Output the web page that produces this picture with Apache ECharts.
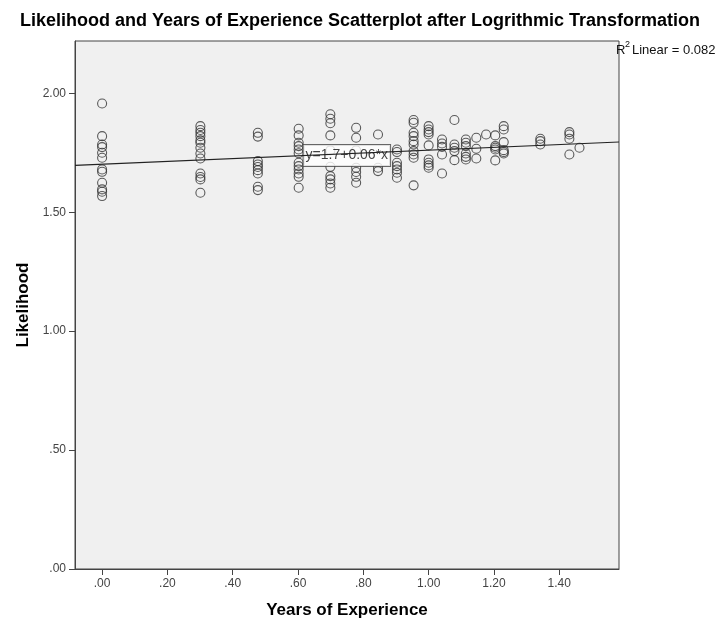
<!DOCTYPE html>
<html>
<head>
<meta charset="utf-8">
<script src="https://cdn.jsdelivr.net/npm/echarts@6/dist/echarts.min.js"></script>
<style>
  html, body { margin: 0; padding: 0; background: #fff; }
  #main { width: 720px; height: 626px; }
</style>
</head>
<body>
<div id="main"></div>
<script>
// log10 years of experience, one entry per column of points
var colX = [0, 0.301, 0.477, 0.602, 0.699, 0.778, 0.845, 0.903, 0.954, 1.0, 1.041, 1.079, 1.114, 1.146, 1.176, 1.204, 1.230, 1.342, 1.431, 1.462];
// likelihood values in each column
var colY = [
  [1.957, 1.820, 1.785, 1.774, 1.750, 1.729, 1.680, 1.670, 1.624, 1.596, 1.586, 1.568],
  [1.862, 1.846, 1.834, 1.820, 1.802, 1.792, 1.771, 1.747, 1.726, 1.663, 1.648, 1.638, 1.582],
  [1.834, 1.818, 1.715, 1.701, 1.690, 1.677, 1.663, 1.607, 1.593],
  [1.851, 1.823, 1.792, 1.778, 1.764, 1.748, 1.708, 1.694, 1.680, 1.663, 1.649, 1.603],
  [1.912, 1.893, 1.874, 1.823, 1.760, 1.691, 1.652, 1.638, 1.621, 1.603],
  [1.855, 1.813, 1.760, 1.687, 1.669, 1.649, 1.624],
  [1.827, 1.687, 1.673],
  [1.764, 1.753, 1.708, 1.694, 1.680, 1.666, 1.645],
  [1.888, 1.876, 1.834, 1.820, 1.799, 1.785, 1.757, 1.743, 1.729, 1.613],
  [1.862, 1.848, 1.837, 1.827, 1.781, 1.722, 1.708, 1.697, 1.687],
  [1.806, 1.789, 1.775, 1.743, 1.663],
  [1.888, 1.785, 1.771, 1.757, 1.719],
  [1.806, 1.792, 1.778, 1.747, 1.733, 1.722],
  [1.813, 1.767, 1.726],
  [1.827],
  [1.823, 1.778, 1.771, 1.764, 1.718],
  [1.862, 1.848, 1.795, 1.761, 1.753, 1.747],
  [1.809, 1.799, 1.785],
  [1.837, 1.827, 1.809, 1.743],
  [1.771]
];
var xTicks = [0, 0.2, 0.4, 0.6, 0.8, 1.0, 1.2, 1.4];
var yTicks = [0, 0.5, 1.0, 1.5, 2.0];
var xRange = [-0.083, 1.583];
var yRange = [0, 2.22];
var fitIntercept = 1.702;
var fitSlope = 0.059;
var fitText = 'y=1.7+0.06*x';
var fitLabelX = 0.617;
var r2Text = '0.082';

var points = [];
colX.forEach(function(x, i){
    colY[i].forEach(function(y){ points.push([x, y]); });
});
var fitLine = [
    [xRange[0], fitIntercept + fitSlope * xRange[0]],
    [xRange[1], fitIntercept + fitSlope * xRange[1]]
];
var fitLabelPt = [fitLabelX, fitIntercept + fitSlope * fitLabelX];

function fmt(v){
    return v.toFixed(2).replace(/^0/, '');
}

var font = 'Liberation Sans, Arial, sans-serif';
var chart = echarts.init(document.getElementById('main'));
chart.setOption({
    animation: false,
    textStyle: { fontFamily: font },
    title: {
        text: 'Likelihood and Years of Experience Scatterplot after Logrithmic Transformation',
        left: 'center', top: 7,
        textStyle: { fontSize: 18, fontWeight: 'bold', color: '#000', fontFamily: font }
    },
    grid: { left: 75, right: 101, top: 41, bottom: 57, show: true, backgroundColor: '#f0f0f0', borderColor: '#444', borderWidth: 1 },
    xAxis: {
        type: 'value', min: xRange[0], max: xRange[1],
        name: 'Years of Experience', nameLocation: 'middle', nameGap: 33,
        nameTextStyle: { fontSize: 17, fontWeight: 'bold', color: '#000', fontFamily: font },
        axisLine: { show: true, onZero: false, lineStyle: { color: '#444' } },
        axisTick: { show: true, length: 6, customValues: xTicks, lineStyle: { color: '#444' } },
        axisLabel: { customValues: xTicks, formatter: fmt, color: '#444', fontSize: 12, margin: 9 },
        splitLine: { show: false }
    },
    yAxis: {
        type: 'value', min: yRange[0], max: yRange[1],
        name: 'Likelihood', nameLocation: 'middle', nameGap: 39, nameRotate: 90,
        nameTextStyle: { fontSize: 17, fontWeight: 'bold', color: '#000', fontFamily: font },
        axisLine: { show: true, onZero: false, lineStyle: { color: '#444' } },
        axisTick: { show: true, length: 6, customValues: yTicks, lineStyle: { color: '#444' } },
        axisLabel: { customValues: yTicks, formatter: fmt, color: '#444', fontSize: 12, margin: 9 },
        splitLine: { show: false }
    },
    series: [
        {
            type: 'line', data: fitLine, symbol: 'none', silent: true,
            lineStyle: { color: '#222', width: 1.2 }
        },
        {
            type: 'scatter', data: points, symbol: 'circle', symbolSize: 9,
            itemStyle: { color: 'rgba(0,0,0,0)', borderColor: '#333', borderWidth: 1.1 }
        },
        {
            type: 'scatter', data: [fitLabelPt], symbolSize: 0, silent: true,
            label: {
                show: true, position: 'right', distance: 0,
                formatter: fitText, fontSize: 14, color: '#111',
                backgroundColor: '#fff', borderColor: '#444', borderWidth: 1,
                padding: [4, 2, 3, 2]
            }
        }
    ],
    graphic: [
        { type: 'text', left: 616, top: 44, style: { text: 'R', fontSize: 13, fontFamily: font, fill: '#111' } },
        { type: 'text', left: 625, top: 40, style: { text: '2', fontSize: 9, fontFamily: font, fill: '#111' } },
        { type: 'text', left: 632, top: 44, style: { text: 'Linear = ' + r2Text, fontSize: 13, fontFamily: font, fill: '#111' } }
    ]
});
</script>
</body>
</html>
